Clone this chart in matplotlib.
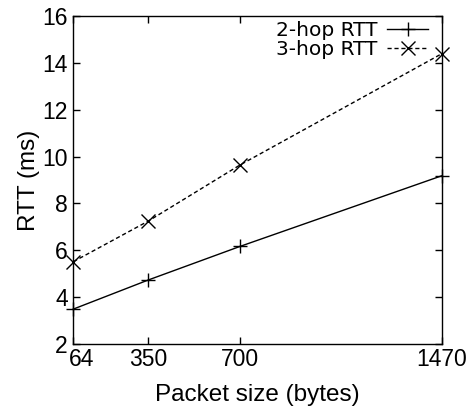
import matplotlib
matplotlib.use("Agg")
import matplotlib.pyplot as plt
from matplotlib.transforms import ScaledTranslation

packet_sizes = [64, 350, 700, 1470]
rtt_2hop = [3.5, 4.74, 6.17, 9.18]
rtt_3hop = [5.52, 7.25, 9.64, 14.38]
x_ticks = [64, 350, 700, 1470]
y_ticks = [2, 4, 6, 8, 10, 12, 14, 16]

fig = plt.figure(figsize=(4.75, 4.09), dpi=100)
ax = fig.add_axes([0.1544, 0.1582, 0.7756, 0.8034])

ax.plot(packet_sizes, rtt_2hop, color="black", lw=1.0, ls="-",
        marker="+", markersize=10, markeredgewidth=1.0,
        label="2-hop RTT", clip_on=False)
ax.plot(packet_sizes, rtt_3hop, color="black", lw=1.0, ls=(0, (3, 2)),
        marker="x", markersize=10, markeredgewidth=1.0,
        label="3-hop RTT", clip_on=False)

ax.set_xlim(64, 1470)
ax.set_ylim(2, 16)
ax.set_xticks(x_ticks)
ax.set_yticks(y_ticks)

tick_font = {"family": "Liberation Sans", "size": 16.5}
ax.set_xticklabels([str(v) for v in x_ticks], **tick_font)
ax.set_yticklabels([str(v) for v in y_ticks], **tick_font)
ax.tick_params(direction="in", length=5, width=1.0, top=True, right=True)
ax.tick_params(axis="x", pad=3)
ax.tick_params(axis="y", pad=4)

# nudge the first x label right so it clears the lowest y label
first = ax.get_xticklabels()[0]
first.set_transform(first.get_transform() + ScaledTranslation(8 / 100, 0, fig.dpi_scale_trans))

for s in ax.spines.values():
    s.set_linewidth(1.0)

ax.set_xlabel("Packet size (bytes)", family="Liberation Sans", size=17.5, labelpad=9)
ax.set_ylabel("RTT (ms)", family="Liberation Sans", size=17.5, labelpad=2)

leg = ax.legend(loc="upper right", bbox_to_anchor=(1.0, 1.027), frameon=False,
                markerfirst=False, handlelength=2.0, handletextpad=0.5,
                labelspacing=0.02, borderpad=0.2,
                prop={"family": "DejaVu Sans", "size": 14.5})

fig.savefig("out.png", dpi=100)
